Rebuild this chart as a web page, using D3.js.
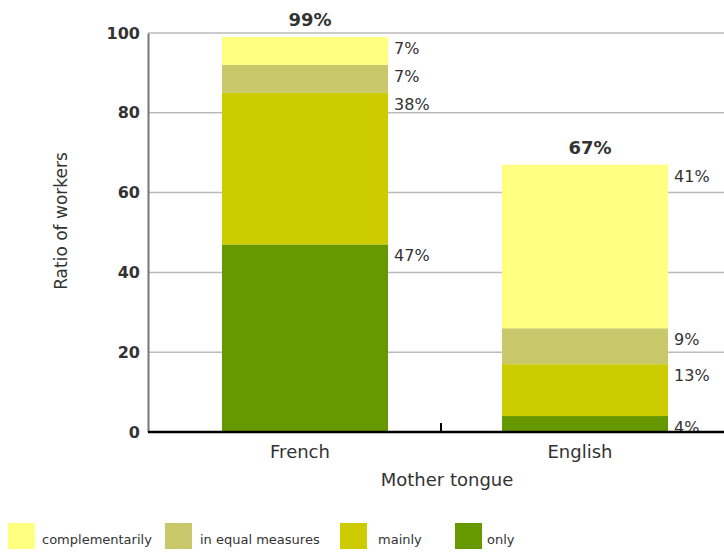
<!DOCTYPE html>
<html>
<head>
<meta charset="utf-8">
<script src="https://cdn.jsdelivr.net/npm/d3@7"></script>
<style>
  body { margin: 0; background: #fff; }
  text { font-family: "DejaVu Sans", sans-serif; fill: #333; }
</style>
</head>
<body>
<div id="chart"></div>
<script>
// categories and series (percent of workers)
const categories = ["French", "English"];
const seriesNames = ["only", "mainly", "in equal measures", "complementarily"];
const seriesColors = ["#669900", "#cccc00", "#c9c96b", "#ffff80"];
const only = [47, 4];
const mainly = [38, 13];
const equal = [7, 9];
const complementarily = [7, 41];
const totals = ["99%", "67%"];
const yTicks = [0, 20, 40, 60, 80, 100];
const legendOrder = ["complementarily", "in equal measures", "mainly", "only"];
const legendX = [8, 165, 340, 455];

const W = 724, H = 554;
const svg = d3.select("#chart").append("svg")
    .attr("width", W)
    .attr("height", H);

const y = d3.scaleLinear().domain([0, 100]).range([432, 33]);
const x = d3.scaleBand().domain(categories).range([165, 725]).padding(0);
const barW = x.bandwidth() * 0.593;

// gridlines
svg.append("g")
  .selectAll("line")
  .data(yTicks.filter(d => d > 0))
  .join("line")
    .attr("x1", 148).attr("x2", W)
    .attr("y1", d => y(d)).attr("y2", d => y(d))
    .attr("stroke", "#bbb")
    .attr("stroke-width", 1.5);

// y axis
const yAxis = svg.append("g")
    .attr("transform", "translate(148,0)")
    .call(d3.axisLeft(y).tickValues(yTicks).tickSize(0).tickPadding(8));
yAxis.select(".domain").attr("stroke", "#777").attr("stroke-width", 2);
yAxis.selectAll("text")
    .style("font-family", "'DejaVu Sans', sans-serif")
    .style("font-size", "16px")
    .style("font-weight", "bold")
    .style("fill", "#333");

svg.append("text")
    .attr("transform", "translate(67,221) rotate(-90)")
    .attr("text-anchor", "middle")
    .style("font-size", "17px")
    .text("Ratio of workers");

// stacked bars
const rows = categories.map((c, i) => ({
  cat: c,
  "only": only[i],
  "mainly": mainly[i],
  "in equal measures": equal[i],
  "complementarily": complementarily[i]
}));
const stacked = d3.stack().keys(seriesNames)(rows);

const layer = svg.append("g")
  .selectAll("g")
  .data(stacked)
  .join("g")
    .attr("fill", (d, i) => seriesColors[i]);

layer.selectAll("rect")
  .data(d => d)
  .join("rect")
    .attr("x", d => x(d.data.cat) + (x.bandwidth() - barW) / 2)
    .attr("width", barW)
    .attr("y", d => y(d[1]))
    .attr("height", d => y(d[0]) - y(d[1]));

// segment labels
layer.selectAll("text")
  .data(d => d.map(v => Object.assign({ key: d.key }, v)))
  .join("text")
    .attr("x", d => x(d.data.cat) + (x.bandwidth() + barW) / 2 + 6)
    .attr("y", d => y(d[1]) + 17)
    .style("font-size", "16px")
    .style("fill", "#333")
    .text(d => d.data[d.key] + "%");

// totals
svg.append("g")
  .selectAll("text")
  .data(stacked[stacked.length - 1])
  .join("text")
    .attr("x", d => x(d.data.cat) + x.bandwidth() / 2 + 5)
    .attr("y", d => y(d[1]) - 11)
    .attr("text-anchor", "middle")
    .style("font-size", "18px")
    .style("font-weight", "bold")
    .text((d, i) => totals[i]);

// x axis
svg.append("line")
    .attr("x1", 148).attr("x2", W)
    .attr("y1", 432).attr("y2", 432)
    .attr("stroke", "#000")
    .attr("stroke-width", 2.5);
svg.append("line")
    .attr("x1", x("English") - 4).attr("x2", x("English") - 4)
    .attr("y1", 423).attr("y2", 432)
    .attr("stroke", "#000")
    .attr("stroke-width", 2);

svg.append("g")
  .selectAll("text")
  .data(categories)
  .join("text")
    .attr("x", d => x(d) + x.bandwidth() / 2 - 5)
    .attr("y", 458)
    .attr("text-anchor", "middle")
    .style("font-size", "18px")
    .text(d => d);

svg.append("text")
    .attr("x", 447)
    .attr("y", 486)
    .attr("text-anchor", "middle")
    .style("font-size", "18px")
    .text("Mother tongue");

// legend
const legend = svg.append("g")
  .selectAll("g")
  .data(legendOrder)
  .join("g")
    .attr("transform", (d, i) => `translate(${legendX[i]},523)`);

legend.append("rect")
    .attr("width", 27)
    .attr("height", 26)
    .attr("fill", d => seriesColors[seriesNames.indexOf(d)]);

legend.append("text")
    .attr("x", (d, i) => [34, 35, 38, 32][i])
    .attr("y", 21)
    .style("font-size", "13px")
    .text(d => d);
</script>
</body>
</html>
